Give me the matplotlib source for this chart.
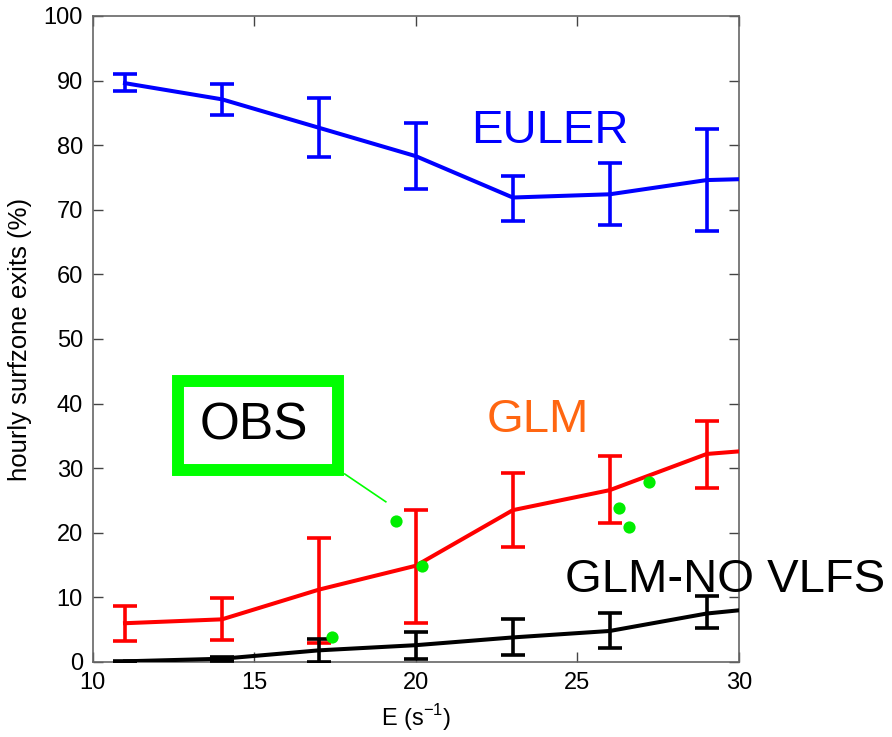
import matplotlib
matplotlib.use("Agg")
import matplotlib.pyplot as plt
from matplotlib.patches import Rectangle

plt.rcParams['font.family'] = ['Liberation Sans', 'DejaVu Sans']
plt.rcParams['mathtext.fontset'] = 'custom'
plt.rcParams['mathtext.rm'] = 'Liberation Sans'

# Wave forcing (s^-1) and hourly surfzone exit fractions (%)
E = [11, 14, 17, 20, 23, 26, 29, 32]

euler_mean = [89.6, 87.1, 82.7, 78.3, 71.9, 72.4, 74.6, 75.0]
euler_lo = [88.4, 84.7, 78.2, 73.2, 68.2, 67.7, 66.7, 70.0]
euler_hi = [91.0, 89.4, 87.3, 83.4, 75.2, 77.3, 82.5, 80.0]

glm_mean = [6.0, 6.6, 11.2, 14.9, 23.5, 26.6, 32.2, 33.4]
glm_lo = [3.3, 3.4, 3.0, 6.1, 17.8, 21.5, 27.0, 28.0]
glm_hi = [8.7, 9.9, 19.2, 23.5, 29.3, 31.9, 37.3, 38.0]

novlf_mean = [0.1, 0.5, 1.8, 2.6, 3.8, 4.8, 7.5, 9.0]
novlf_lo = [0.05, 0.2, 0.05, 0.5, 1.1, 2.2, 5.2, 6.5]
novlf_hi = [0.15, 0.8, 3.5, 4.7, 6.6, 7.6, 10.2, 11.5]

# Observed exit fractions
obs_E = [19.4, 20.2, 17.4, 26.3, 26.6, 27.2]
obs_pct = [21.9, 14.9, 3.8, 23.9, 20.9, 27.9]

xticks = [10, 15, 20, 25, 30]
yticks = [0, 10, 20, 30, 40, 50, 60, 70, 80, 90, 100]

fig = plt.figure(figsize=(8.92, 7.37), dpi=100)
ax = fig.add_axes([0.1039, 0.1018, 0.7246, 0.8765])


def draw_series(mean, lo, hi, color):
    yerr = [[m - l for m, l in zip(mean, lo)], [h - m for m, h in zip(mean, hi)]]
    ax.errorbar(E, mean, yerr=yerr, color=color, lw=2.9, elinewidth=2.6,
                capsize=8.3, capthick=2.6, zorder=3)


draw_series(euler_mean, euler_lo, euler_hi, '#0000FF')
draw_series(glm_mean, glm_lo, glm_hi, '#FF0000')
draw_series(novlf_mean, novlf_lo, novlf_hi, '#000000')

ax.plot(obs_E, obs_pct, 'o', color='#00EE00', ms=8.8, mec='none', zorder=4)

# OBS call-out box and pointer
ax.add_patch(Rectangle((12.64, 29.7), 4.95, 13.8, fill=True, facecolor='white',
                       edgecolor='#00FF00', lw=8.6, zorder=5))
ax.text(13.3, 34.4, 'OBS', fontsize=37, color='black', va='baseline',
        ha='left', zorder=6)
ax.plot([17.8, 19.07], [29.1, 24.8], color='#00FF00', lw=1.2, zorder=4)

# Series names
ax.text(21.7, 80.3, 'EULER', fontsize=34, color='#0000FF', va='baseline', ha='left')
ax.text(22.2, 35.65, 'GLM', fontsize=34, color='#FF6611', va='baseline', ha='left')
ax.text(24.6, 10.9, 'GLM-NO VLFS', fontsize=34, color='black', va='baseline',
        ha='left', clip_on=False, zorder=6)

ax.set_xlim(10, 30)
ax.set_ylim(0, 100)
ax.set_xticks(xticks)
ax.set_yticks(yticks)
ax.tick_params(direction='in', length=7, width=1, top=True, right=True,
               labelsize=17, colors='#444444', labelcolor='black', pad=7)
for s in ax.spines.values():
    s.set_color('#666666')
    s.set_linewidth(1.2)

ax.set_xlabel(r'E (s$^{\mathregular{-1}}$)', fontsize=17, labelpad=6)
ax.set_ylabel('hourly surfzone exits (%)', fontsize=18.5, labelpad=8)

fig.savefig('out.png', dpi=100)
